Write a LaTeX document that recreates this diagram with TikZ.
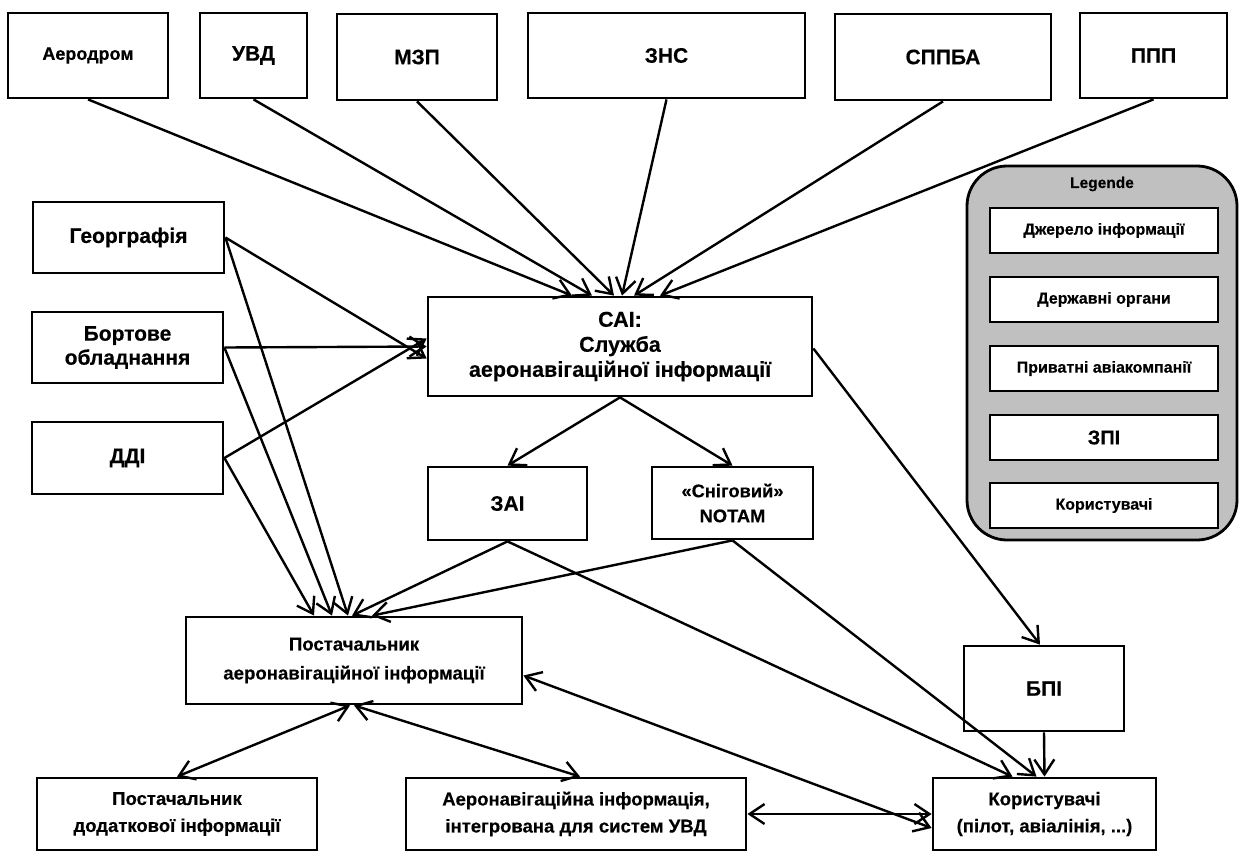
\documentclass[tikz,border=0pt]{standalone}
\usepackage{fontspec}
\setmainfont{Liberation Sans}[BoldFeatures={FakeBold=0.35}]
\usetikzlibrary{arrows.meta}
\definecolor{legendgray}{RGB}{192,192,192}
\newcommand\myfs[2]{\fontsize{#1}{#2}\selectfont}
\begin{document}
\begin{tikzpicture}[x=1pt,y=-1pt,
  box/.style={draw,line width=2.8pt,fill=white,align=center,inner sep=0pt},
  tip/.tip={Straight Barb[length=15pt,width=20pt,line width=2.4pt]},
  arr/.style={line width=2.4pt,-tip},
  darr/.style={line width=2.4pt,tip-tip},
  big/.style={font=\bfseries\myfs{21}{25}},
  mid/.style={font=\bfseries\myfs{18.5}{27}},
  small/.style={font=\bfseries\myfs{16}{18}}
]
\useasboundingbox (0,0) rectangle (1245,852);

% sources along the top
\node[box,big,font=\bfseries\myfs{18}{22},minimum width=160,minimum height=85] (aer) at (88,55.5) {Аеродром};
\node[box,big,minimum width=107,minimum height=85] (uvd) at (253.5,55.5) {УВД};
\node[box,big,minimum width=160,minimum height=86] (mzp) at (417,57) {МЗП};
\node[box,big,minimum width=277,minimum height=85] (zns) at (666.5,55.5) {ЗНС};
\node[box,big,minimum width=216,minimum height=86] (sppba) at (943,57) {СППБА};
\node[box,big,minimum width=147,minimum height=85] (ppp) at (1153.5,55.5) {ППП};

% sources on the left
\node[box,big,minimum width=191,minimum height=71] (geo) at (128.5,237.5) {Георграфія};
\node[box,big,font=\bfseries\myfs{21}{24},minimum width=191,minimum height=71] (bort) at (127.5,347.5) {Бортове\\обладнання};
\node[box,big,minimum width=191,minimum height=72] (ddi) at (127.5,458) {ДДІ};

% aeronautical information service and its products
\node[box,font=\bfseries\myfs{21.5}{25},minimum width=384,minimum height=99] (cai) at (620,346.5) {САІ:\\Служба\\аеронавігаційної інформації};
\node[box,big,minimum width=159,minimum height=73] (zai) at (507.5,503.5) {ЗАІ};
\node[box,font=\bfseries\myfs{18.3}{25},minimum width=161,minimum height=72] (notam) at (732.5,503) {«Сніговий»\\NOTAM};
\node[box,font=\bfseries\myfs{18.6}{29},minimum width=336,minimum height=87] (post) at (354,660.5) {Постачальник\\аеронавігаційної інформації};
\node[box,big,minimum width=160,minimum height=85] (bpi) at (1044,688.5) {БПІ};

% bottom row
\node[box,mid,minimum width=280,minimum height=72] (dod) at (177,814) {Постачальник\\додаткової інформації};
\node[box,mid,minimum width=340,minimum height=72] (integ) at (576,814) {Аеронавігаційна інформація,\\інтегрована для систем УВД};
\node[box,mid,minimum width=223,minimum height=72] (users) at (1044.5,814) {Користувачі\\(пілот, авіалінія, ...)};

% legend
\node[draw,line width=2.8pt,fill=legendgray,rounded corners=40pt,minimum width=270,minimum height=374] (leg) at (1102,353) {};
\node[font=\bfseries\myfs{15.5}{18}] (legt) at (1102,184) {Legende};
\node[box,small,minimum width=228,minimum height=45] (l1) at (1104,230.5) {Джерело інформації};
\node[box,small,minimum width=228,minimum height=45] (l2) at (1104,299.5) {Державні органи};
\node[box,small,minimum width=228,minimum height=45] (l3) at (1104,368.5) {Приватні авіакомпанії};
\node[box,font=\bfseries\myfs{20}{24},minimum width=228,minimum height=45] (l4) at (1104,437.5) {ЗПІ};
\node[box,small,minimum width=228,minimum height=45] (l5) at (1104,505.5) {Користувачі};

% top sources into the service
\draw[arr] (aer.south) -- ([xshift=-48]cai.north);
\draw[arr] (uvd.south) -- ([xshift=-28]cai.north);
\draw[arr] (mzp.south) -- ([xshift=-6]cai.north);
\draw[arr] (zns.south) -- ([xshift=2]cai.north);
\draw[arr] (sppba.south) -- ([xshift=14]cai.north);
\draw[arr] (ppp.south) -- ([xshift=40]cai.north);

% left sources into the service
\draw[arr] (geo.east) -- ([yshift=-12]cai.west);
\draw[arr] (bort.east) -- (cai.west);
\draw[arr] (ddi.east) -- ([yshift=8]cai.west);

% left sources into the provider
\draw[arr] (geo.east) -- ([xshift=-6]post.north);
\draw[arr] (bort.east) -- ([xshift=-22]post.north);
\draw[arr] (ddi.east) -- ([xshift=-40]post.north);

% service outputs
\draw[arr] (cai.south) -- (zai.north);
\draw[arr] (cai.south) -- (notam.north);
\draw[arr] ([yshift=-2]cai.east) -- ([xshift=-4]bpi.north);

% products into the provider and to the users
\draw[arr] (zai.south) -- ([xshift=-2]post.north);
\draw[arr] (notam.south) -- ([xshift=18]post.north);
\draw[arr] (zai.south) -- ([xshift=-32]users.north);
\draw[arr] (notam.south) -- ([xshift=-8]users.north);
\draw[arr] (bpi.south) -- (users.north);

% exchanges
\draw[darr] ([yshift=-15]post.east) -- ([yshift=-14]users.west);
\draw[darr] ([xshift=-4]post.south) -- (dod.north);
\draw[darr] (post.south) -- ([xshift=4]integ.north);
\draw[darr] (integ.east) -- (users.west);
\end{tikzpicture}
\end{document}
